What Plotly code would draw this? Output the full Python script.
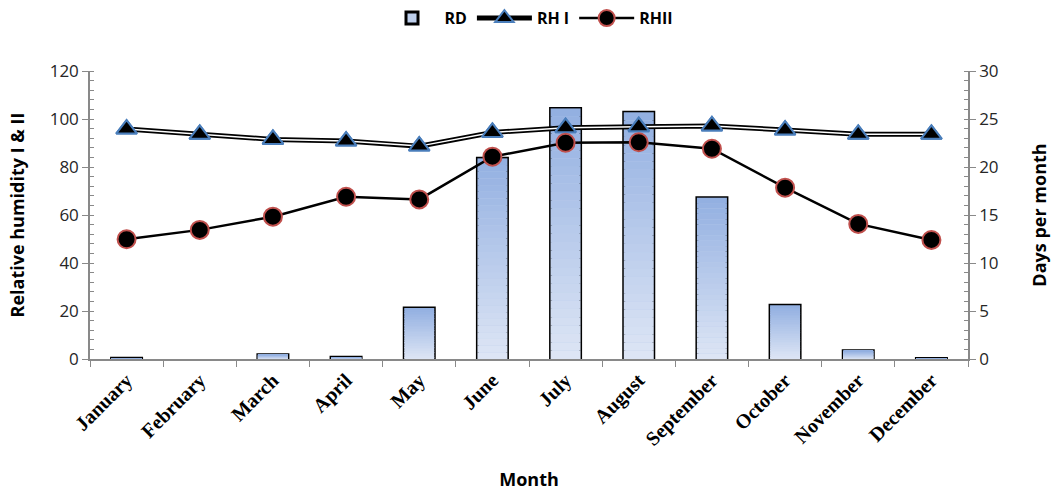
import plotly.graph_objects as go

months = ["January", "February", "March", "April", "May", "June", "July",
          "August", "September", "October", "November", "December"]
rain_days = [0.07, 0.0, 0.45, 0.18, 5.3, 20.9, 26.1, 25.7, 16.8, 5.6, 0.85, 0.05]
rh_one = [95.8, 93.6, 91.5, 90.8, 88.7, 94.4, 96.4, 96.8, 97.1, 95.4, 93.6, 93.6]
rh_two = [49.9, 53.8, 59.3, 67.6, 66.5, 84.3, 90.1, 90.3, 87.6, 71.4, 56.3, 49.6]

BAR_WIDTH = 0.41
N_STEPS = 30
LIGHT = (222, 230, 245)
DARK = (146, 175, 225)


def blend(t):
    return "rgb(%d,%d,%d)" % tuple(round(a + (b - a) * t) for a, b in zip(LIGHT, DARK))


# vertical gradient for each bar: stacked slices from light (bottom) to dark (top)
seg_x, seg_base, seg_h, seg_col = [], [], [], []
for m, v in zip(months, rain_days):
    for i in range(N_STEPS):
        seg_x.append(m)
        seg_base.append(v * i / N_STEPS)
        seg_h.append(v / N_STEPS)
        seg_col.append(blend((i + 0.5) / N_STEPS))

# empty months get no outline
outline_w = [3 if v > 0 else 0 for v in rain_days]

fig = go.Figure()

# outlined bar (carries legend entry), gradient slices painted over its interior
fig.add_trace(go.Bar(
    x=months, y=rain_days, name="RD", width=BAR_WIDTH, yaxis="y",
    marker=dict(color="rgb(190,207,236)", line=dict(color="black", width=outline_w)),
))
fig.add_trace(go.Bar(
    x=seg_x, y=seg_h, base=seg_base, width=BAR_WIDTH, yaxis="y", showlegend=False,
    marker=dict(color=seg_col, line=dict(width=0)), hoverinfo="skip",
))

tri = dict(symbol="triangle-up", size=18, color="black",
           line=dict(color="#4a7ebb", width=2))

# RH I : double line (black outer, white core) with triangles
fig.add_trace(go.Scatter(
    x=months, y=rh_one, name="RH I", yaxis="y2", mode="lines+markers",
    line=dict(color="black", width=5), marker=tri,
))
fig.add_trace(go.Scatter(
    x=months, y=rh_one, yaxis="y2", mode="lines", showlegend=False,
    line=dict(color="white", width=1.5), hoverinfo="skip",
))
fig.add_trace(go.Scatter(
    x=months, y=rh_one, yaxis="y2", mode="markers", showlegend=False, marker=tri,
))

# RH II : black line with red-rimmed circles
fig.add_trace(go.Scatter(
    x=months, y=rh_two, name="RHII", yaxis="y2", mode="lines+markers",
    line=dict(color="black", width=2.5),
    marker=dict(symbol="circle", size=18, color="black",
                line=dict(color="#c0504d", width=2)),
))

axis_grey = "#898989"
tick_font = dict(family="Open Sans", size=17, color="#262626")
title_font = dict(family="Open Sans", size=18, color="black")

fig.update_layout(
    width=1054, height=491,
    margin=dict(l=90, r=86, t=71, b=132, autoexpand=False),
    paper_bgcolor="white", plot_bgcolor="white",
    barmode="overlay",
    showlegend=True,
    legend=dict(orientation="h", x=0.5, xanchor="center",
                yref="container", y=0.963, yanchor="middle",
                font=dict(family="Open Sans", size=16, color="black", weight="bold"),
                traceorder="normal", itemwidth=55),
    xaxis=dict(
        type="category", tickson="boundaries", ticks="outside", ticklen=6,
        tickcolor=axis_grey, showline=True, linecolor=axis_grey, linewidth=1.5,
        showgrid=False, tickangle=-45, automargin=False,
        tickfont=dict(family="Liberation Serif", size=20, color="black", weight="bold"),
        title=dict(text="<b>Month</b>", font=title_font, standoff=26),
        range=[-0.5, 11.5],
    ),
    yaxis=dict(
        side="right", range=[0, 30], dtick=5, ticks="outside", ticklen=6,
        tickcolor=axis_grey, showline=True, linecolor=axis_grey, linewidth=1.5,
        showgrid=False, zeroline=False, tickfont=tick_font, automargin=False,
        minor=dict(dtick=1, ticks="inside", ticklen=4, tickcolor=axis_grey),
        title=dict(text="<b>Days per month</b>", font=title_font, standoff=36),
    ),
    yaxis2=dict(
        overlaying="y", side="left", range=[0, 120], dtick=20, ticks="outside",
        ticklen=6, tickcolor=axis_grey, showline=True, linecolor=axis_grey,
        linewidth=1.5, showgrid=False, zeroline=False, tickfont=tick_font,
        automargin=False,
        minor=dict(dtick=4, ticks="inside", ticklen=4, tickcolor=axis_grey),
        title=dict(text="<b>Relative humidity I & II</b>", font=title_font, standoff=20),
    ),
)

fig.write_html("out.html")
